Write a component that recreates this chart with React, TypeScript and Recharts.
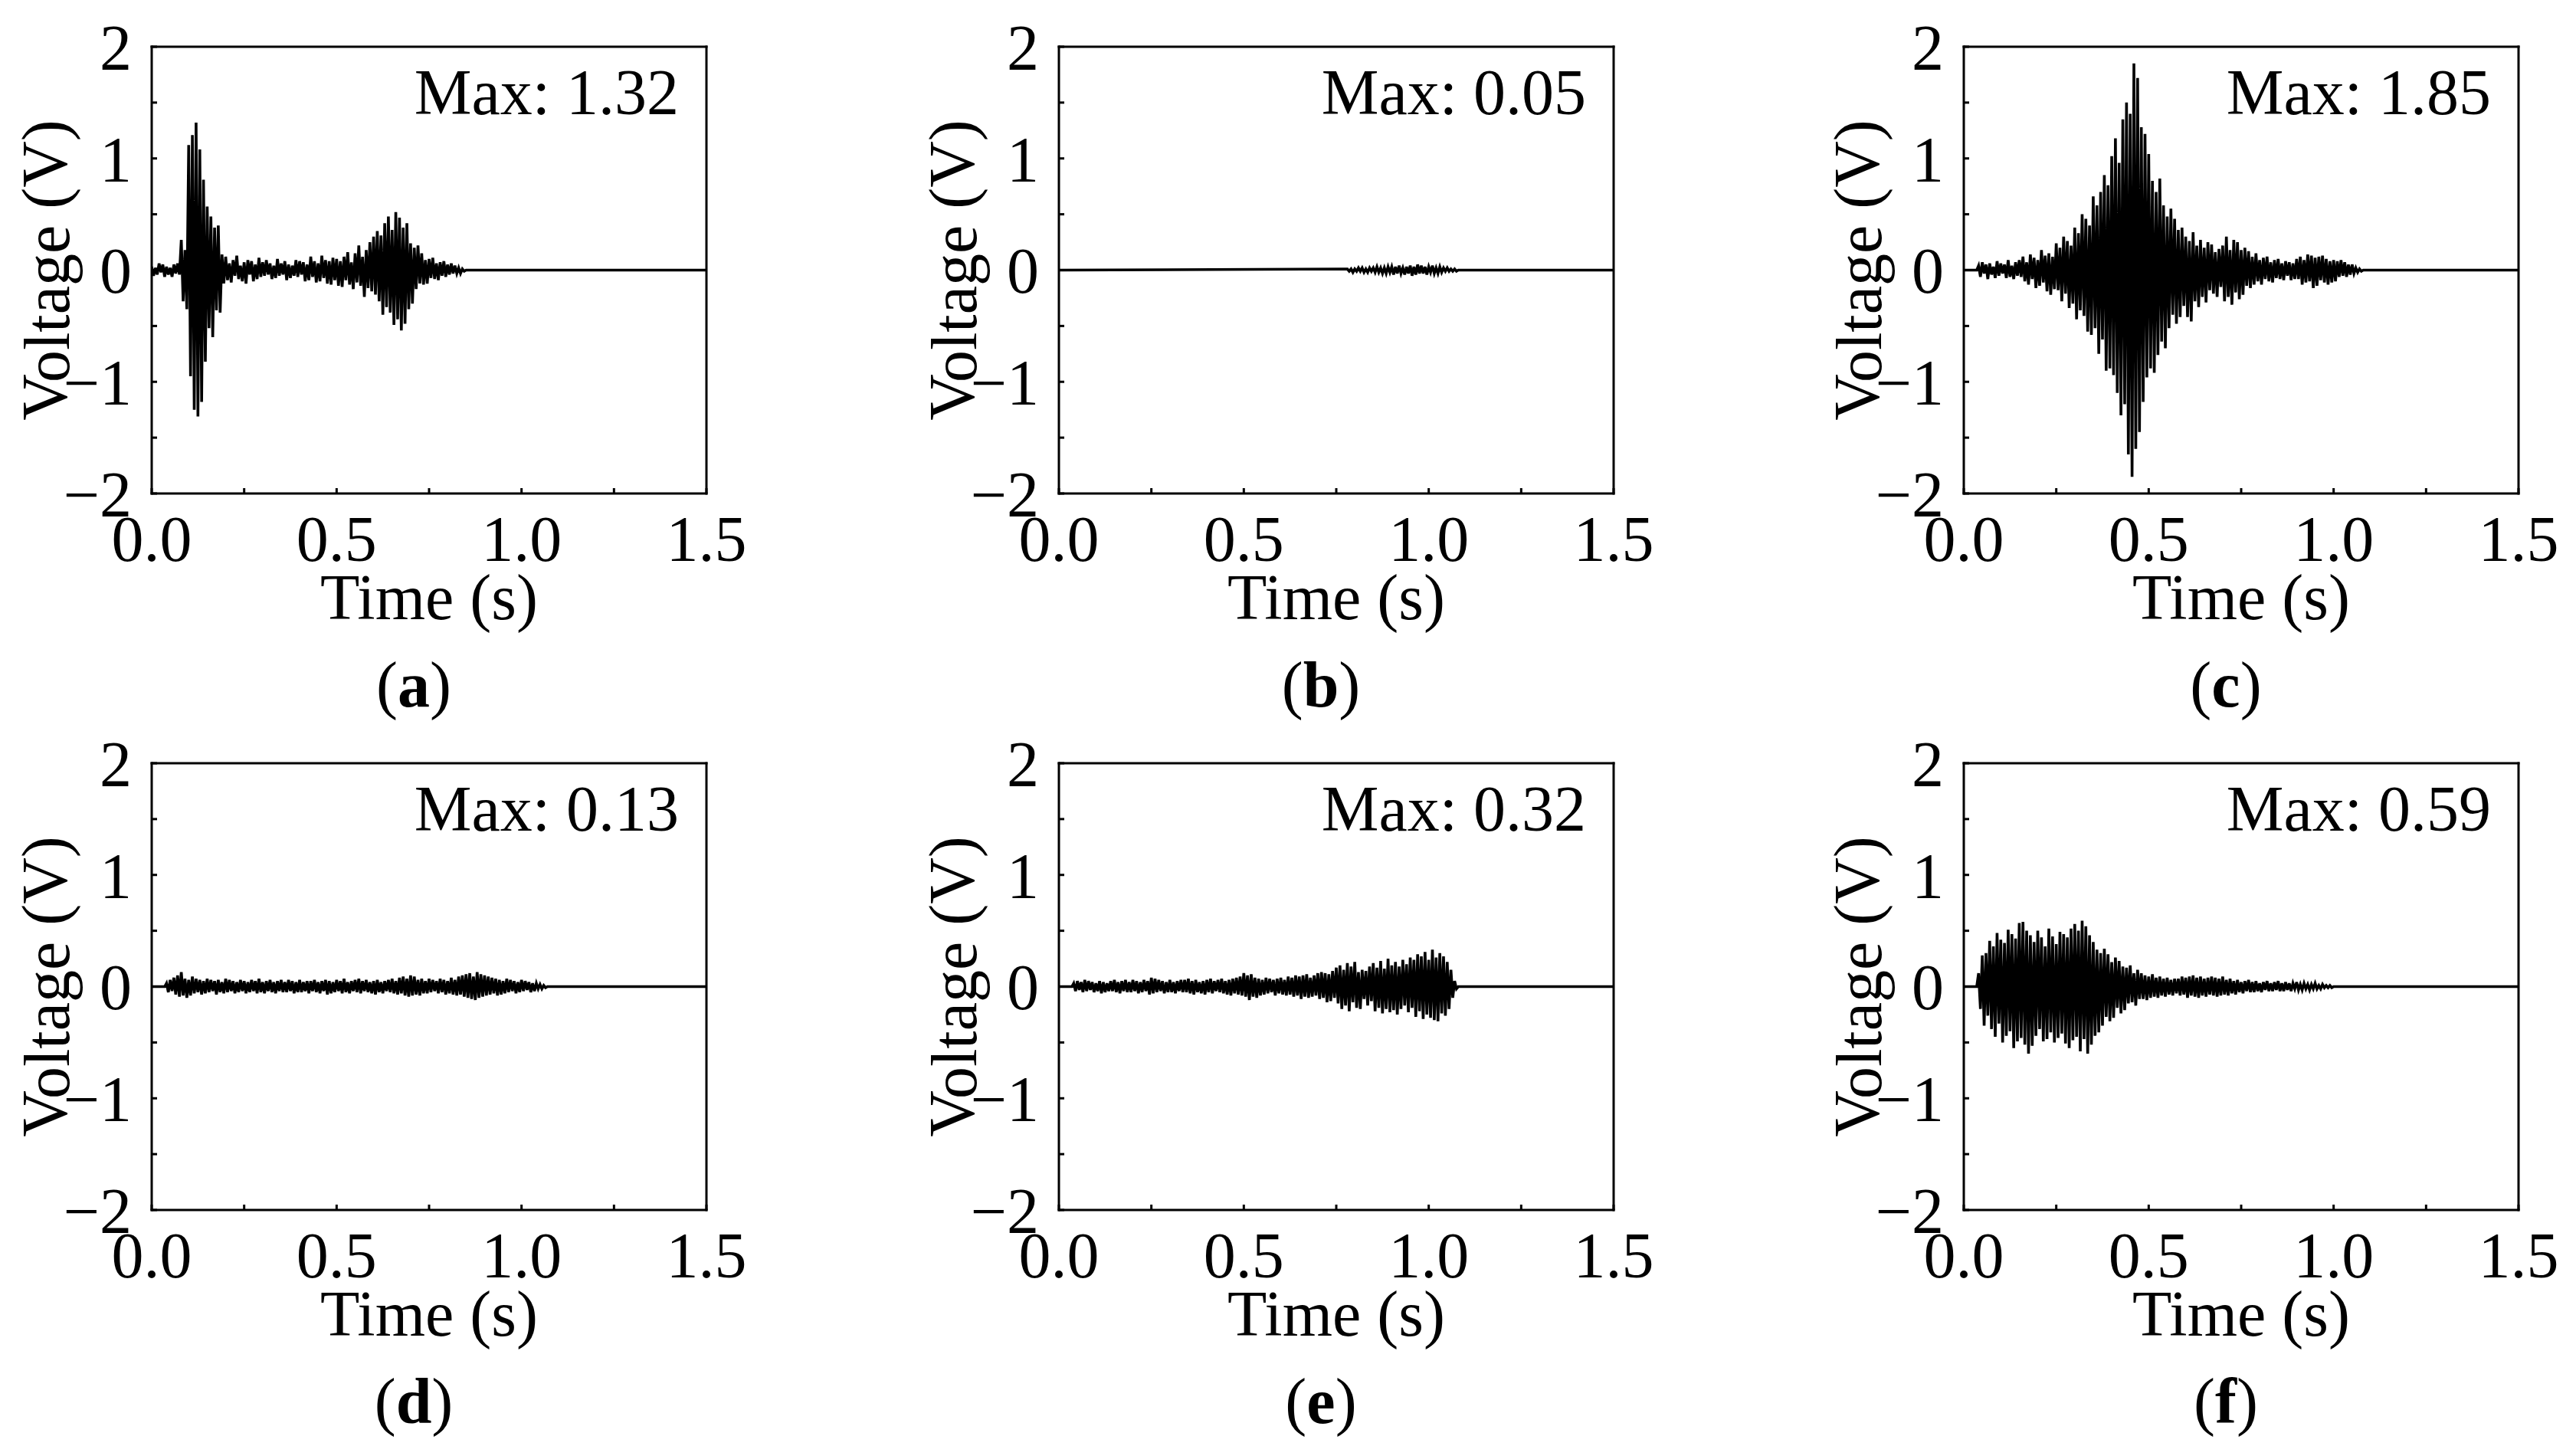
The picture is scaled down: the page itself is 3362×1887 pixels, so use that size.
import React from 'react';
import { LineChart, Line, XAxis, YAxis } from 'recharts';

// sensor output, values in hundredths of a volt, one sample per STEP seconds
const TAGS = ['a', 'b', 'c', 'd', 'e', 'f'];
const MAX_LABELS = ['Max: 1.32', 'Max: 0.05', 'Max: 1.85', 'Max: 0.13', 'Max: 0.32', 'Max: 0.59'];
const STARTS = [0, 0.78, 0.035, 0.035, 0.035, 0.035];
const STEPS = [0.005, 0.005, 0.005, 0.005, 0.005, 0.005];

const SIGNAL_A = [
  3, -5, 2, -4, 6, -2, 5, -6, 3, -4, 2, -6, 5, -3, 6, -4,
  27, -28, 18, -35,
  112, -95, 121, -125, 132, -131, 108, -118,
  81, -82, 57, -52, 48, -60, 38, -36, 40, -38, 14, -12,
  12, -9, 6, -11, 9, -5, 13, -8, 4, -10, 7, -12, 9, -4, 8, -10, 5, -8, 11, -6,
  7, -5, 9, -4, 6, -8, 4, -7, 10, -5, 6, -4, 8, -9, 5, -7, 4, -5, 9, -6,
  8, -4, 7, -10, 5, -9, 12, -6, 8, -11, 6, -10, 13, -7, 9, -12, 8, -13, 11, -9,
  10, -14, 8, -15, 12, -9, 16, -13, 7, -17, 15, -11, 22, -14, 12, -24, 18, -16, 25, -19,
  30, -22, 35, -28, 31, -40, 42, -33, 48, -38, 36, -49, 52, -44, 47, -54, 38, -48, 42, -35,
  24, -30, 20, -17, 22, -12, 15, -13, 9, -12, 10, -7, 11, -8, 6, -9, 7, -5, 8, -6,
  5, -4, 6, -3, 4, -3, 2, -3, 1, -1, 0,
];

const SIGNAL_B = [
  1, -1, 1, -2, 1, -1, 2, -1, 2, -2, 1, -2, 2, -1, 2, -2, 3, -2, 2, -3,
  2, -3, 3, -2, 3, -4, 3, -3, 4, -3, 2, -4, 3, -3, 4, -5, 3, -4, 5, -3,
  4, -3, 3, -4, 3, -2, 4, -3, 2, -3, 3, -2, 2, -1, 2, -1, 1, -1, 1, -1,
  0,
];

const SIGNAL_C = [
  0,
  4, -6, 7, -3, 5, -8, 6, -4, 3, -7, 8, -5, 6, -3, 5, -7, 9, -6, 4, -8, 7, -5,
  9, -6, 12, -10, 7, -13, 14, -8, 11, -16, 9, -14, 18, -11, 13, -19, 15, -22, 12, -17,
  24, -18, 20, -28, 30, -21, 26, -34, 22, -30,
  38, -44, 33, -36, 50, -41, 46, -55, 40, -58,
  66, -52, 58, -75, 70, -62, 85, -90, 76, -88,
  102, -94, 118, -110, 96, -130, 135,
  -120, 150, -165, 140, -185, 185, -160, 172, -145, 128,
  -118, 122, -96, 104, -88, 80, -92, 70, -76, 82,
  -64, 58, -70, 48, -52, 55, -40, 46, -48, 36, -42, 38, -32,
  30, -42, 26, -46, 34, -28, 22, -33, 27, -24, 20, -29, 25, -18, 23, -21, 16, -24, 19, -15,
  22, -28, 30, -24, 18, -31, 27, -20, 25, -26, 18, -22, 20, -14, 17, -16, 12, -13, 15, -10,
  9, -13, 11, -8, 12, -10, 7, -11, 9, -7, 10, -8, 6, -9, 8, -5, 7, -9, 6, -8,
  10, -8, 12, -13, 9, -11, 14, -10, 13, -16, 11, -14, 12, -9, 13, -11, 10, -13, 8, -11,
  9, -10, 8, -6, 9, -5, 7, -6, 5, -4, 5, -3, 2, -2, 1, -1, 0,
];

const SIGNAL_D = [
  0,
  3, -5, 6, -4, 8, -7, 10, -9, 13, -8, 7, -10, 6, -8, 9, -6, 7, -5, 6, -7,
  5, -6, 7, -5, 6, -4, 5, -7, 6, -5, 4, -6, 7, -5, 6, -4, 5, -6, 4, -5,
  6, -4, 5, -6, 4, -5, 6, -4, 5, -6, 7, -5, 4, -6, 5, -4, 6, -5, 4, -6,
  5, -4, 6, -5, 4, -5, 6, -4, 5, -6, 4, -5, 6, -5, 4, -4, 5, -6, 5, -4,
  6, -5, 4, -6, 5, -4, 6, -7, 5, -6, 4, -5, 6, -4, 5, -6, 7, -5, 4, -6,
  5, -4, 6, -5, 7, -6, 5, -4, 6, -5, 4, -6, 5, -7, 6, -5, 4, -6, 5, -4,
  6, -5, 7, -6, 5, -7, 8, -6, 9, -8, 7, -9, 10, -8, 9, -7, 6, -8, 7, -6,
  5, -6, 7, -5, 6, -4, 5, -6, 7, -5, 6, -7, 5, -6, 8, -7, 6, -8, 9, -7,
  10, -9, 11, -10, 12, -11, 9, -12, 13, -10, 11, -9, 10, -8, 9, -7, 8, -6, 7, -8,
  6, -7, 5, -6, 7, -5, 6, -4, 5, -6, 4, -5, 6, -4, 5, -3, 4, -5, 3, -4,
  3, -2, 2, -2, 1, -1, 0,
];

const SIGNAL_E = [
  0,
  3, -4, 5, -3, 4, -5, 6, -4, 5, -3, 4, -5, 3, -4, 5, -6, 4, -5, 3, -4,
  5, -4, 6, -5, 4, -6, 5, -4, 6, -5, 4, -5, 6, -4, 5, -6, 4, -5, 6, -4,
  5, -7, 8, -6, 7, -5, 6, -4, 5, -6, 4, -5, 6, -5, 4, -6, 5, -4, 6, -5,
  6, -5, 7, -6, 5, -7, 6, -5, 4, -6, 5, -7, 6, -5, 7, -6, 5, -4, 6, -5,
  7, -6, 5, -7, 6, -8, 7, -6, 8, -7, 9, -8, 12, -9, 10, -12, 11, -9, 8, -10,
  7, -8, 6, -7, 8, -6, 7, -5, 6, -8, 7, -6, 8, -7, 6, -8, 9, -7, 8, -9,
  10, -8, 9, -11, 10, -9, 11, -10, 8, -9, 10, -8, 12, -11, 13, -10, 12, -14, 11, -13,
  14, -10, 17, -15, 19, -20, 15, -17, 21, -22, 18, -14, 22, -19, 13, -20, 15, -11, 14, -17,
  18, -13, 21, -22, 17, -19, 23, -24, 16, -20, 25, -23, 19, -21, 22, -25, 18, -20, 24, -17,
  20, -23, 26, -19, 24, -27, 29, -22, 27, -29, 31, -25, 24, -28, 33, -30, 26, -31, 30, -24,
  27, -26, 22, -20, 15, -10, 5, -2, 0,
];

const SIGNAL_F = [
  0,
  12, -20, 28, -35, 30, -26, 41, -38,
  36, -45, 48, -33, 42, -50, 39, -44, 51, -40, 47, -55, 43, -49, 57, -46, 58, -52, 50, -60,
  46, -53, 40, -44, 50, -38, 44, -49, 36, -47, 52, -41, 45, -50, 38, -46, 49, -42, 47, -51,
  44, -55, 52, -48, 56, -45, 50, -58, 59, -47, 54, -60, 46, -52, 40, -44, 33, -41, 30, -35,
  34, -27, 29, -31, 22, -28, 26, -19, 23, -24, 18, -21, 17, -15, 19, -14, 12, -17, 15, -11,
  12, -11, 10, -12, 9, -10, 11, -9, 8, -10, 9, -8, 7, -9, 8, -7, 6, -8, 7, -6,
  7, -8, 9, -7, 8, -10, 9, -8, 10, -9, 8, -10, 9, -8, 7, -9, 8, -7, 9, -8,
  8, -9, 7, -8, 9, -7, 6, -8, 7, -6, 5, -7, 6, -5, 4, -6, 5, -4, 6, -5,
  4, -5, 5, -4, 3, -5, 4, -3, 5, -4, 3, -4, 4, -3, 5, -4, 3, -4, 4, -3,
  3, -4, 3, -2, 4, -3, 2, -3, 3, -2, 2, -3, 2, -2, 3, -2, 1, -2, 2, -1,
  1, -1, 1, -1, 0,
];

const SIGNALS = [SIGNAL_A, SIGNAL_B, SIGNAL_C, SIGNAL_D, SIGNAL_E, SIGNAL_F];

const X_TICKS = [0, 0.25, 0.5, 0.75, 1, 1.25, 1.5];
const Y_TICKS = [-2, -1.5, -1, -0.5, 0, 0.5, 1, 1.5, 2];
const TIME_END = 1.5;

// layout
const FONT = '"Liberation Serif", "Times New Roman", serif';
const FONT_SIZE = 84;
const COL_LEFT = [0, 1184, 2365];
const ROW_TOP = [0, 935];
const Y_AXIS_W = 198;
const X_AXIS_H = 300;
const MARGIN = { top: 60, right: 60, bottom: 0, left: 0 };
const PLOT_W = 724;
const PLOT_H = 583;
const CHART_W = MARGIN.left + Y_AXIS_W + PLOT_W + 1 + MARGIN.right;
const CHART_H = MARGIN.top + 1 + PLOT_H + X_AXIS_H + MARGIN.bottom;
const AXIS_STROKE = { stroke: '#000', strokeWidth: 3, strokeLinecap: 'square' as const };

const toRows = (start: number, step: number, cv: number[]) => {
  const rows: { t: number; v: number }[] = [];
  if (start > 0) rows.push({ t: 0, v: 0 });
  cv.forEach((c, i) => rows.push({ t: +(start + i * step).toFixed(4), v: c / 100 }));
  rows.push({ t: TIME_END, v: 0 });
  return rows;
};

const fmtY = (v: number) => (Number.isInteger(v) ? (v < 0 ? `\u2212${Math.abs(v)}` : `${v}`) : '');
const fmtX = (v: number) => (Math.abs(v * 2 - Math.round(v * 2)) < 1e-9 ? v.toFixed(1) : '');

const BottomTitle = ({ viewBox, tag }: any) => {
  if (!viewBox) return null;
  const cx = viewBox.x + viewBox.width / 2;
  return (
    <g>
      <text x={cx} y={viewBox.y + 164} textAnchor="middle" fontSize={FONT_SIZE} fontFamily={FONT} fill="#000">
        Time (s)
      </text>
      <text x={cx - 20} y={viewBox.y + 278} textAnchor="middle" fontSize={FONT_SIZE} fontFamily={FONT} fill="#000">
        (<tspan fontWeight="bold">{tag}</tspan>)
      </text>
    </g>
  );
};

const LeftTitle = ({ viewBox }: any) => {
  if (!viewBox) return null;
  const tx = viewBox.x + 87;
  const ty = viewBox.y + viewBox.height / 2;
  return (
    <text
      x={tx}
      y={ty}
      transform={`rotate(-90 ${tx} ${ty})`}
      textAnchor="middle"
      fontSize={FONT_SIZE}
      fontFamily={FONT}
      fill="#000"
    >
      V<tspan dy={3}>oltage </tspan>
      <tspan dy={-3}>(V)</tspan>
    </text>
  );
};

const MaxNote = ({ viewBox, text }: any) => {
  if (!viewBox) return null;
  return (
    <text
      x={viewBox.x + viewBox.width - 36}
      y={viewBox.y + viewBox.height + 88}
      textAnchor="end"
      fontSize={FONT_SIZE}
      fontFamily={FONT}
      fill="#000"
    >
      {text}
    </text>
  );
};

const Panel = ({ idx }: { idx: number }) => {
  const rows = toRows(STARTS[idx], STEPS[idx], SIGNALS[idx]);
  const tickStyle = { fill: '#000', fontSize: FONT_SIZE, fontFamily: FONT };
  return (
    <div style={{ position: 'absolute', left: COL_LEFT[idx % 3], top: ROW_TOP[Math.floor(idx / 3)] }}>
      <LineChart width={CHART_W} height={CHART_H} data={rows} margin={MARGIN}>
        <XAxis
          xAxisId="bottom"
          type="number"
          dataKey="t"
          domain={[0, TIME_END]}
          ticks={X_TICKS}
          interval={0}
          tickFormatter={fmtX}
          tickSize={-7}
          tickMargin={35}
          height={X_AXIS_H}
          axisLine={AXIS_STROKE}
          tickLine={{ stroke: '#000', strokeWidth: 3 }}
          tick={tickStyle}
          allowDataOverflow
          label={<BottomTitle tag={TAGS[idx]} />}
        />
        <XAxis
          xAxisId="top"
          orientation="top"
          type="number"
          domain={[0, TIME_END]}
          height={1}
          tick={false}
          tickLine={false}
          axisLine={AXIS_STROKE}
          label={<MaxNote text={MAX_LABELS[idx]} />}
        />
        <YAxis
          yAxisId="left"
          type="number"
          domain={[-2, 2]}
          ticks={Y_TICKS}
          interval={0}
          tickFormatter={fmtY}
          tickSize={-7}
          tickMargin={33}
          width={Y_AXIS_W}
          axisLine={AXIS_STROKE}
          tickLine={{ stroke: '#000', strokeWidth: 3 }}
          tick={tickStyle}
          allowDataOverflow
          label={<LeftTitle />}
        />
        <YAxis
          yAxisId="right"
          orientation="right"
          type="number"
          domain={[-2, 2]}
          width={1}
          tick={false}
          tickLine={false}
          axisLine={AXIS_STROKE}
        />
        <Line
          xAxisId="bottom"
          yAxisId="left"
          type="linear"
          dataKey="v"
          stroke="#000"
          strokeWidth={3.6}
          dot={false}
          activeDot={false}
          isAnimationActive={false}
        />
      </LineChart>
    </div>
  );
};

export default function App() {
  return (
    <div style={{ position: 'absolute', left: 0, top: 0, width: 3362, height: 1887, background: '#fff' }}>
      {TAGS.map((_, i) => (
        <Panel key={i} idx={i} />
      ))}
    </div>
  );
}
